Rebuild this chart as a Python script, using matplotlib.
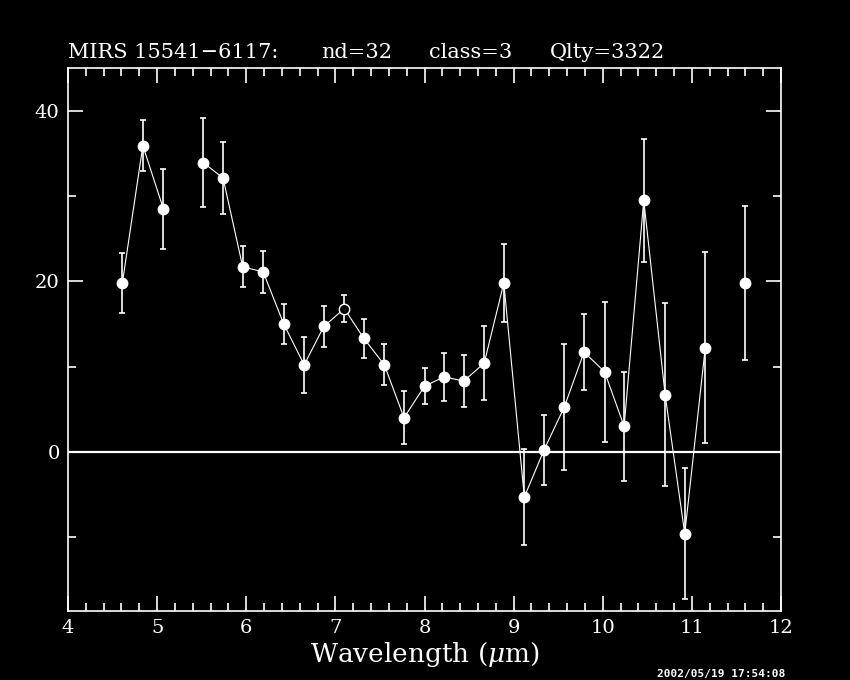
import numpy as np
import matplotlib
matplotlib.use("Agg")
import matplotlib.pyplot as plt
from matplotlib.ticker import MultipleLocator

# Data (nan = missing channel, breaks the connecting line)
wavelength = [4.61, 4.84, 5.07, 5.29, 5.52, 5.74, 5.96, 6.19, 6.42, 6.65, 6.87, 7.10,
              7.32, 7.55, 7.77, 8.00, 8.22, 8.44, 8.67, 8.89, 9.12, 9.34, 9.57, 9.79,
              10.02, 10.24, 10.46, 10.70, 10.92, 11.15, 11.37, 11.60]
flux = [19.8, 35.9, 28.5, np.nan, 33.9, 32.1, 21.7, 21.1, 15.0, 10.2, 14.7, 16.8,
        13.3, 10.2, 4.0, 7.7, 8.8, 8.3, 10.4, 19.8, -5.3, 0.2, 5.3, 11.7,
        9.4, 3.0, 29.5, 6.7, -9.6, 12.2, np.nan, 19.8]
error = [3.5, 3.0, 4.7, np.nan, 5.2, 4.2, 2.4, 2.5, 2.3, 3.3, 2.4, 1.6,
         2.3, 2.4, 3.1, 2.1, 2.8, 3.0, 4.3, 4.6, 5.6, 4.1, 7.4, 4.5,
         8.2, 6.4, 7.2, 10.7, 7.7, 11.2, np.nan, 9.0]
open_point = 11  # index of point drawn as open circle

title_parts = ["MIRS 15541\u22126117:", "nd=32", "class=3", "Qlty=3322"]
title_x_px = [68, 321, 429, 550]
timestamp = "2002/05/19 17:54:08"

plt.rcParams['mathtext.fontset'] = 'dejavuserif'
fig = plt.figure(figsize=(8.5, 6.8), dpi=100, facecolor='black')
ax = fig.add_axes([68/850, 1-611/680, (781-68)/850, (611-68)/680], facecolor='black')

x = np.array(wavelength)
y = np.array(flux)
e = np.array(error)

ax.axhline(0, color='white', lw=1.6, zorder=1)
ax.plot(x, y, color='white', lw=0.8, zorder=2)
ax.errorbar(x, y, yerr=e, fmt='none', ecolor='white', elinewidth=1.2,
            capsize=2.5, capthick=1.2, zorder=3)
mask = np.ones(len(x), bool)
mask[open_point] = False
ax.plot(x[mask], y[mask], 'o', color='white', ms=7.5, zorder=4, linestyle='none')
ax.plot([x[open_point]], [y[open_point]], 'o', mfc='black', mec='white', mew=1.0,
        ms=7.5, zorder=4)

ax.set_xlim(4, 12)
ax.set_ylim(-18.65, 45.0)
ax.xaxis.set_major_locator(MultipleLocator(1))
ax.xaxis.set_minor_locator(MultipleLocator(0.2))
ax.yaxis.set_major_locator(MultipleLocator(20))
ax.yaxis.set_minor_locator(MultipleLocator(10))
ax.tick_params(which='both', direction='in', colors='white', top=True, right=True,
               width=1.2)
ax.tick_params(which='major', length=11, labelsize=14, pad=6)
ax.tick_params(which='minor', length=6)
for lab in ax.get_xticklabels() + ax.get_yticklabels():
    lab.set_family('DejaVu Serif')
for s in ax.spines.values():
    s.set_color('white')
    s.set_linewidth(1.2)

ax.set_xlabel("Wavelength ($\\mu$m)", color='white', fontsize=19,
              family='DejaVu Serif', labelpad=2)
for part, px in zip(title_parts, title_x_px):
    fig.text(px/850, 1-58/680, part, color='white', fontsize=15,
             family='DejaVu Serif', ha='left', va='baseline')
fig.text(785/850, 1/680, timestamp, color='white', fontsize=8,
         family='DejaVu Sans Mono', weight='bold', ha='right', va='bottom')

fig.savefig("out.png", dpi=100, facecolor='black')
